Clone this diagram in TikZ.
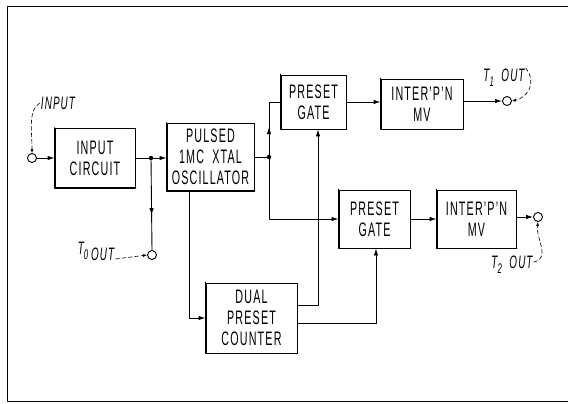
\documentclass[tikz,border=0pt]{standalone}
\usepackage{fontspec}
\setmainfont{Liberation Sans}[FakeStretch=0.55, LetterSpace=6]
\usetikzlibrary{arrows.meta,decorations.markings}

\tikzset{
  block/.style={draw, line width=0.9pt, align=center, inner sep=0pt,
    font=\fontsize{19.5}{21}\selectfont},
  term/.style={draw, circle, line width=0.9pt, minimum size=9pt, inner sep=0pt},
  flow/.style={line width=0.9pt, -{Latex[length=7pt,width=4.5pt]}},
  wire/.style={line width=0.9pt},
  midarrow/.style={wire, postaction={decorate}, decoration={markings,
    mark=at position #1 with {\arrow{Latex[length=7pt,width=4.5pt]}}}},
  lbl/.style={font=\fontsize{18}{18}\selectfont\itshape, inner sep=1pt},
  pointer/.style={dash pattern=on 4pt off 2.5pt, line width=0.6pt, -{Latex[length=4pt,width=3pt]}}
}
\newcommand{\sbx}[1]{\raisebox{-5pt}{\fontsize{14}{14}\selectfont #1}}

\begin{document}
\begin{tikzpicture}[x=1pt, y=-1pt, line join=round, line cap=round]
    \useasboundingbox (0,0) rectangle (568,404);

    % 枠
    \draw[line width=0.8pt] (568,6) -- (7,6) -- (7,401) -- (568,401);

    % ブロック
    \node[block, minimum width=80pt, minimum height=59pt] (incirc) at (95,158) {INPUT\\CIRCUIT};
    \node[block, minimum width=87pt, minimum height=67pt] (osc) at (210.5,157) {PULSED\\1MC\ \ XTAL\\OSCILLATOR};
    \node[block, minimum width=65pt, minimum height=54pt] (gateA) at (313.5,102) {PRESET\\GATE};
    \node[block, minimum width=82pt, minimum height=50pt] (mvA) at (422,104) {INTER'P'N\\MV};
    \node[block, minimum width=71pt, minimum height=58pt] (gateB) at (374.5,219) {PRESET\\GATE};
    \node[block, minimum width=79pt, minimum height=58pt] (mvB) at (476.5,219) {INTER'P'N\\MV};
    \node[block, minimum width=91pt, minimum height=70pt] (counter) at (251.5,318) {DUAL\\PRESET\\COUNTER};

    % 太い左辺と下辺
    \foreach \b in {incirc,osc,gateA,mvA,gateB,mvB,counter}
        \draw[line width=1.8pt] (\b.north west) -- (\b.south west) -- (\b.south east);

    % 端子
    \node[term] (in) at (32,158) {};
    \node[term] (t0) at (152,255) {};
    \node[term] (t1) at (507,101) {};
    \node[term] (t2) at (538,217) {};

    % 分岐点
    \coordinate (j1) at (151,158);
    \coordinate (j2) at (269,157);
    \foreach \p in {j1,j2} \fill (\p) circle (2.2pt);

    % 接続線
    \draw[flow] (in) -- (incirc);
    \draw[flow] (incirc.east |- j1) -- (osc.west |- j1);
    \draw[midarrow=0.62] (j1) -- (t0.north);
    \draw[wire] (osc.east |- j2) -- (j2);
    \draw[midarrow=0.45] (j2) |- (gateA.west);
    \draw[flow] (j2) |- (gateB.west);
    \draw[flow] ([xshift=-21.5pt]osc.south) |- (counter.west);
    \draw[flow] ([yshift=13pt]counter.east) -| ([xshift=4.5pt]gateA.south);
    \draw[flow] ([yshift=-5pt]counter.east) -| ([xshift=1.5pt]gateB.south);
    \draw[flow] (gateA) -- (mvA.west |- gateA);
    \draw[flow] (gateB) -- (mvB);
    \draw[flow] (mvA.east |- t1) -- (t1);
    \draw[flow] (mvB.east |- t2) -- (t2);

    % ラベル
    \node[lbl] (inlbl) at (58,103) {INPUT};
    \node[lbl] (t0lbl) at (96,251) {T\sbx{0}\,\raisebox{-6pt}{OUT}};
    \node[lbl] (t1lbl) at (504,78) {T\sbx{1}\ \ OUT};
    \node[lbl] (t2lbl) at (512,265) {T\sbx{2}\ \ OUT};

    \draw[pointer] (inlbl.west) .. controls (28,110) and (32,130) .. (in.north);
    \draw[pointer] (t0lbl.east |- 0,259) -- (t0.west);
    \draw[pointer] (t1lbl.north east) .. controls (538,84) and (526,98) .. (t1.east);
    \draw[pointer] ([yshift=3pt]t2lbl.east) .. controls (551,258) and (536,240) .. (t2.south);
\end{tikzpicture}
\end{document}
